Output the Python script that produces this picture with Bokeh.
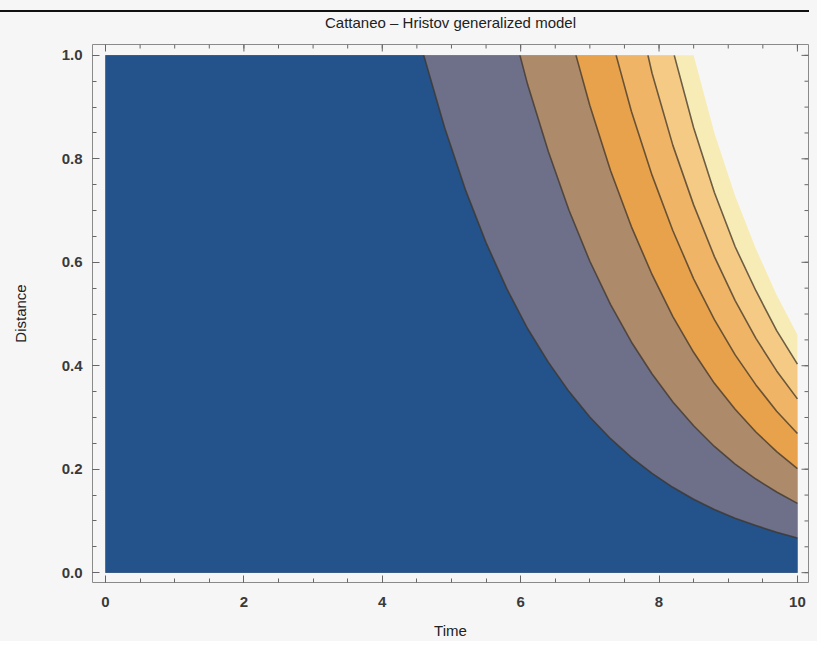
from bokeh.plotting import figure
from bokeh.models import FixedTicker, Div, Range1d, PrintfTickFormatter
from bokeh.layouts import column
from bokeh.embed import file_html
from bokeh.resources import INLINE
import math

# ---- data: (Time, Distance) along each contour boundary ----
b1_t = [4.60, 4.90, 5.20, 5.50, 5.80, 6.10, 6.40, 6.70, 7.00, 7.30, 7.60, 7.90, 8.20, 8.50, 8.80, 9.10, 9.40, 9.70, 10.0]
b1_d = [1.000, 0.861, 0.741, 0.638, 0.549, 0.472, 0.407, 0.350, 0.301, 0.259, 0.223, 0.192, 0.165, 0.142, 0.122, 0.105, 0.091, 0.078, 0.067]
b2_t = [5.99, 6.10, 6.40, 6.70, 7.00, 7.30, 7.60, 7.90, 8.20, 8.50, 8.80, 9.10, 9.40, 9.70, 10.0]
b2_d = [1.000, 0.944, 0.814, 0.700, 0.602, 0.518, 0.446, 0.384, 0.330, 0.284, 0.244, 0.210, 0.181, 0.156, 0.134]
b3_t = [6.80, 7.00, 7.30, 7.60, 7.90, 8.20, 8.50, 8.80, 9.10, 9.40, 9.70, 10.0]
b3_d = [1.000, 0.903, 0.777, 0.669, 0.576, 0.495, 0.426, 0.366, 0.316, 0.272, 0.234, 0.201]
b4_t = [7.38, 7.60, 7.90, 8.20, 8.50, 8.80, 9.10, 9.40, 9.70, 10.0]
b4_d = [1.000, 0.892, 0.768, 0.661, 0.568, 0.489, 0.421, 0.363, 0.312, 0.269]
b5_t = [7.84, 7.90, 8.20, 8.50, 8.80, 9.10, 9.40, 9.70, 10.0]
b5_d = [1.000, 0.965, 0.826, 0.711, 0.611, 0.526, 0.453, 0.390, 0.336]
b6_t = [8.22, 8.50, 8.80, 9.10, 9.40, 9.70, 10.0]
b6_d = [1.000, 0.860, 0.735, 0.630, 0.545, 0.468, 0.403]
edge_t = [8.50, 8.80, 9.10, 9.40, 9.70, 10.0]
edge_d = [1.000, 0.850, 0.728, 0.626, 0.537, 0.460]

x_ticks = [0, 2, 4, 6, 8, 10]
x_minor = [0.5 * i for i in range(0, 21)]
y_ticks = [0.0, 0.2, 0.4, 0.6, 0.8, 1.0]
y_minor = [0.05 * i for i in range(0, 21)]

band_colors = ["#f7ecb6", "#f5ca84", "#efb466", "#e8a24c", "#ad8a6a", "#6e7089", "#24528a"]

BG = "#f6f6f6"
X0, X1 = -0.188, 10.16
Y0, Y1 = -0.019, 1.021
p = figure(frame_width=716, frame_height=538, output_backend="svg", toolbar_location=None,
           x_range=Range1d(X0, X1), y_range=Range1d(Y0, Y1),
           min_border_left=92, min_border_right=9, min_border_top=46, min_border_bottom=50,
           background_fill_color=BG, border_fill_color=None, margin=(-12, 0, 0, 0))
p.grid.visible = False
p.title.text = "Cattaneo \u2013 Hristov generalized model"
p.title.align = "center"
p.title.text_font = "Liberation Sans"
p.title.text_font_style = "normal"
p.title.text_font_size = "15px"
p.title.text_color = "#222222"
p.title.standoff = 27
p.outline_line_color = "#8a8a8a"
p.outline_line_width = 1

curves = [(edge_t, edge_d), (b6_t, b6_d), (b5_t, b5_d), (b4_t, b4_d),
          (b3_t, b3_d), (b2_t, b2_d), (b1_t, b1_d)]
for (ct, cd), col in zip(curves, band_colors):
    xs = [0.0] + list(ct) + [10.0, 0.0]
    ys = [1.0] + list(cd) + [0.0, 0.0]
    p.patch(xs, ys, fill_color=col, line_color=None)

for ct, cd in curves[1:]:
    p.line(ct, cd, line_color="#3d3428", line_alpha=0.75, line_width=1.6)

def style_axis(ax, ticks, minor):
    ax.ticker = FixedTicker(ticks=ticks, minor_ticks=minor)
    ax.axis_line_color = None
    ax.major_tick_in = 7
    ax.major_tick_out = 0
    ax.minor_tick_in = 4
    ax.minor_tick_out = 0
    ax.major_tick_line_color = "#666666"
    ax.minor_tick_line_color = "#666666"
    ax.major_label_text_font = "Liberation Sans"
    ax.major_label_text_font_style = "bold"
    ax.major_label_text_font_size = "15px"
    ax.major_label_text_color = "#3a3a3a"
    ax.axis_label_text_font = "Liberation Sans"
    ax.axis_label_text_font_style = "normal"
    ax.axis_label_text_font_size = "15px"
    ax.axis_label_text_color = "#222222"

xa = p.xaxis[0]
style_axis(xa, x_ticks, x_minor)
xa.axis_label = "Time"
xa.major_label_standoff = 14
xa.axis_label_standoff = 12
ya = p.yaxis[0]
style_axis(ya, y_ticks, y_minor)
ya.axis_label = "Distance"
ya.axis_label_text_align = "left"
ya.formatter = PrintfTickFormatter(format="%.1f")
ya.major_label_standoff = 10
ya.axis_label_standoff = 30

# tick marks on the top and right frame edges (no labels)
tick_col = "#666666"
p.ray(x=x_ticks, y=[Y1] * len(x_ticks), length=7, length_units="screen",
      angle=-math.pi / 2, line_color=tick_col, line_width=1)
p.ray(x=x_minor, y=[Y1] * len(x_minor), length=4, length_units="screen",
      angle=-math.pi / 2, line_color=tick_col, line_width=1)
p.ray(x=[X1] * len(y_ticks), y=y_ticks, length=7, length_units="screen",
      angle=math.pi, line_color=tick_col, line_width=1)
p.ray(x=[X1] * len(y_minor), y=y_minor, length=4, length_units="screen",
      angle=math.pi, line_color=tick_col, line_width=1)

line = Div(text='<div style="height:8px"></div><div style="height:2px;width:809px;background:#111111"></div>',
           width=809, height=10, margin=(0, 0, 0, 0))
layout = column(line, p, spacing=0, styles={"background-color": BG})
open("out.html", "w").write(file_html(layout, INLINE))
